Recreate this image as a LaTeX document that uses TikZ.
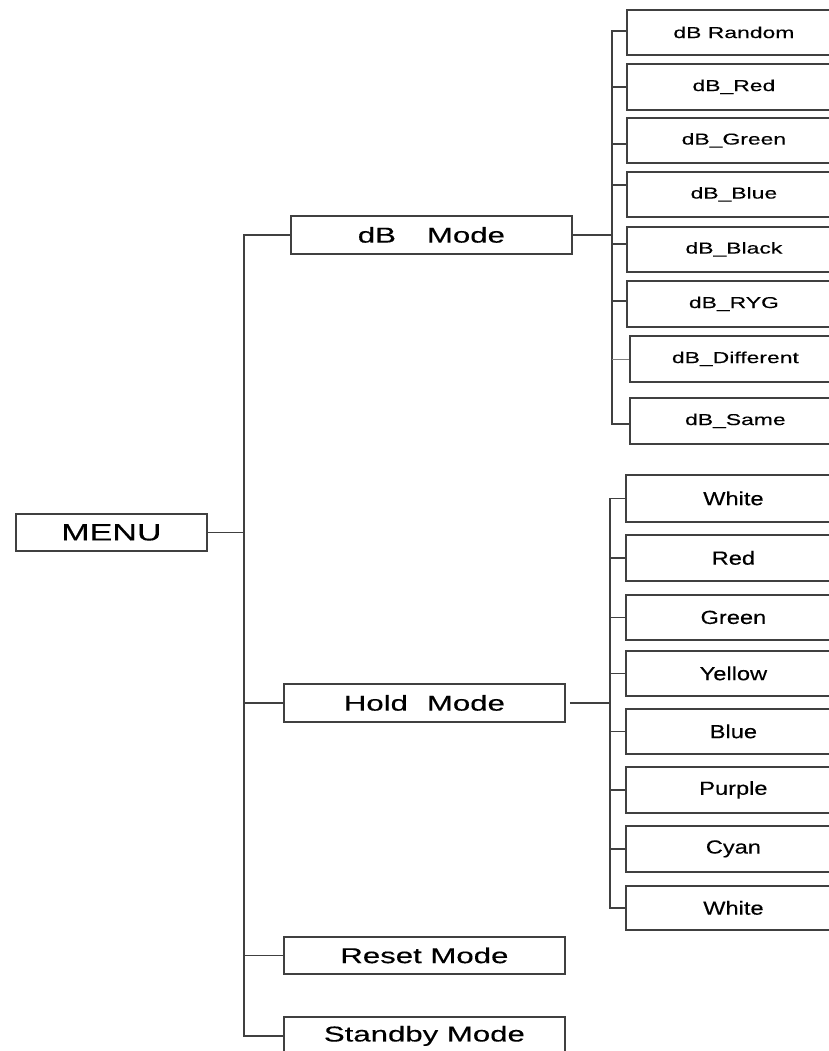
\documentclass[tikz,border=0pt]{standalone}
\usepackage{fontspec}
\newfontfamily\fA[FakeStretch=1.45,FakeBold=0.3]{Liberation Sans}
\newfontfamily\fB[FakeStretch=1.25,FakeBold=0.3]{Liberation Sans}
\begin{document}
\begin{tikzpicture}[x=1pt,y=-1pt,
  box/.style={draw=black!75, line width=1.8pt, rectangle, anchor=north west, inner sep=0pt, text=black},
  menubox/.style={box, minimum width=191pt, minimum height=37pt, font=\fA\fontsize{23.5}{25}\selectfont},
  modebox/.style={box, minimum width=281pt, minimum height=38pt, font=\fA\fontsize{21.5}{23}\selectfont},
  dbsub/.style={box, minimum width=214pt, font=\fA\fontsize{15.8}{17}\selectfont},
  holdsub/.style={box, minimum width=215pt, font=\fB\fontsize{18.9}{20}\selectfont},
  conn/.style={draw=black!75, line width=1.7pt, line join=miter},
  thinconn/.style={draw=black!50, line width=0.8pt}
]
\useasboundingbox (0,0) rectangle (829,1051);
\clip (0,0) rectangle (829,1051);

% main level
\node[menubox] (menu) at (15,513) {MENU};
\node[modebox] (dbm) at (290,215) {dB\hspace{31pt}Mode};
\node[modebox] (hold) at (283,683) {Hold\hspace{19pt}Mode};
\node[modebox, minimum height=37pt] (reset) at (283,936) {Reset Mode};
\node[modebox] (standby) at (283,1016) {Standby Mode};

% dB sub-menu
\node[dbsub, minimum height=45pt] (r1) at (626,9) {\raisebox{-2pt}{dB Random}};
\node[dbsub, minimum height=46pt] (r2) at (626,63) {\raisebox{-1pt}{dB\_Red}};
\node[dbsub, minimum height=45pt] (r3) at (626,117) {\raisebox{-1pt}{dB\_Green}};
\node[dbsub, minimum height=45pt] (r4) at (626,171) {dB\_Blue};
\node[dbsub, minimum height=45pt] (r5) at (626,226) {dB\_Black};
\node[dbsub, minimum height=46pt] (r6) at (626,280) {dB\_RYG};
\node[dbsub, minimum width=211pt, minimum height=46pt] (r7) at (629,335) {dB\_Different};
\node[dbsub, minimum width=211pt, minimum height=46pt] (r8) at (629,397) {dB\_Same};

% Hold sub-menu
\node[holdsub, minimum height=47pt] (h1) at (625,474) {White};
\node[holdsub, minimum height=46pt] (h2) at (625,534) {Red};
\node[holdsub, minimum height=45pt] (h3) at (625,594) {Green};
\node[holdsub, minimum height=45pt] (h4) at (625,650) {Yellow};
\node[holdsub, minimum height=45pt] (h5) at (625,708) {Blue};
\node[holdsub, minimum height=46pt] (h6) at (625,766) {Purple};
\node[holdsub, minimum height=46pt] (h7) at (625,825) {Cyan};
\node[holdsub, minimum height=44pt] (h8) at (625,885) {White};

% bus positions
\coordinate (mbus) at (244,0);
\coordinate (dbus) at (612,0);
\coordinate (hbus) at (610,0);

% tick points on dB boxes
\coordinate (t1) at ([yshift=1.5pt]r1.west);
\coordinate (t2) at (r2.west);
\coordinate (t3) at ([yshift=-3.5pt]r3.west);
\coordinate (t4) at ([yshift=9.5pt]r4.west);
\coordinate (t5) at ([yshift=5.5pt]r5.west);
\coordinate (t6) at ([yshift=3pt]r6.west);
\coordinate (t7) at (r7.west);
\coordinate (t8) at ([yshift=-3pt]r8.west);

% main connectors
\draw[conn] (menu.east) -- (menu.east -| mbus);
\draw[conn] (dbm.west) -- (dbm.west -| mbus) -- (standby.west -| mbus) -- (standby.west);
\draw[conn] (hold.west) -- (hold.west -| mbus);
\draw[conn] (reset.west) -- (reset.west -| mbus);

% dB connectors
\draw[conn] (dbm.east) -- (dbm.east -| dbus);
\draw[conn] (t1) -- (t1 -| dbus) -- (t8 -| dbus) -- (t8);
\foreach \t in {t2,t3,t4,t5,t6} \draw[conn] (\t) -- (\t -| dbus);
\draw[thinconn] (t7) -- (t7 -| dbus);

% Hold connectors
\draw[conn] ([xshift=4pt]hold.east) -- (hold.east -| hbus);
\draw[conn] (h1.west) -- (h1.west -| hbus) -- (h8.west -| hbus) -- (h8.west);
\foreach \h in {h2,h3,h4,h5,h6,h7} \draw[conn] (\h.west) -- (\h.west -| hbus);
\end{tikzpicture}
\end{document}
